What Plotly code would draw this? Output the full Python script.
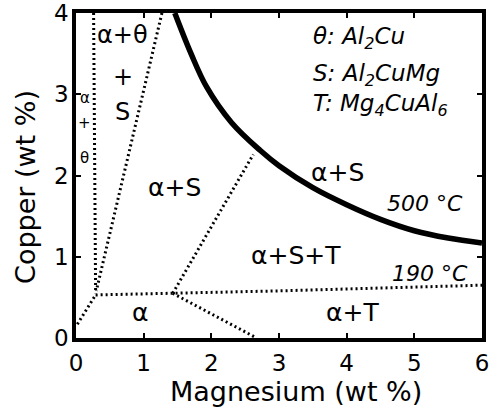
import plotly.graph_objects as go

# 500 °C solvus (thick curve)
curve_mg = [1.46, 1.7, 1.93, 2.3, 2.72, 3.0, 3.5, 4.0, 4.5, 5.0, 5.5, 6.0]
curve_cu = [4.0, 3.5, 3.09, 2.65, 2.31, 2.12, 1.85, 1.64, 1.46, 1.32, 1.23, 1.17]

# dotted phase boundaries (190 °C)
b1_mg = [0.26, 0.29]; b1_cu = [4.0, 0.55]          # alpha+theta / alpha+theta+S
b2_mg = [1.27, 0.30]; b2_cu = [4.0, 0.58]          # alpha+theta+S / alpha+S
b3_mg = [0.02, 0.29]; b3_cu = [0.17, 0.53]         # origin to corner
b4_mg = [0.29, 1.43, 3.0, 6.0]; b4_cu = [0.53, 0.55, 0.58, 0.65]  # 190 °C line
b5_mg = [1.43, 2.62]; b5_cu = [0.55, 2.26]         # alpha+S / alpha+S+T
b6_mg = [1.43, 2.67]; b6_cu = [0.55, 0.0]          # alpha / alpha+T

x_ticks = [0, 1, 2, 3, 4, 5, 6]
y_ticks = [0, 1, 2, 3, 4]

FONT = "DejaVu Sans, Liberation Sans, Arial, sans-serif"

fig = go.Figure()
for xs, ys in [(b1_mg, b1_cu), (b2_mg, b2_cu), (b3_mg, b3_cu), (b4_mg, b4_cu),
               (b5_mg, b5_cu), (b6_mg, b6_cu)]:
    fig.add_trace(go.Scatter(x=xs, y=ys, mode="lines",
                             line=dict(color="black", width=3, dash="2px,3px"),
                             hoverinfo="skip", showlegend=False))
fig.add_trace(go.Scatter(x=curve_mg, y=curve_cu, mode="lines",
                         line=dict(color="black", width=5.5, shape="spline"),
                         hoverinfo="skip", showlegend=False))

labels = [
    ("α+θ", 0.68, 3.73, 24, False),
    ("+", 0.69, 3.21, 24, False),
    ("S", 0.69, 2.78, 24, False),
    ("α", 0.13, 2.95, 15, False),
    ("+", 0.13, 2.65, 15, False),
    ("θ", 0.13, 2.22, 15, False),
    ("α+S", 1.46, 1.85, 25, False),
    ("α+S", 3.86, 2.04, 25, False),
    ("500 °C", 5.16, 1.66, 22, True),
    ("α+S+T", 3.25, 1.01, 25, False),
    ("190 °C", 5.23, 0.80, 22, True),
    ("α", 0.95, 0.31, 25, False),
    ("α+T", 4.08, 0.32, 25, False),
]
for txt, x, y, sz, it in labels:
    fig.add_annotation(x=x, y=y, text=("<i>%s</i>" % txt) if it else txt,
                       showarrow=False, font=dict(family=FONT, size=sz, color="black"),
                       xanchor="center", yanchor="middle")

legend_lines = [
    ("<i>θ: Al<sub>2</sub>Cu</i>", 3.69),
    ("<i>S: Al<sub>2</sub>CuMg</i>", 3.24),
    ("<i>T: Mg<sub>4</sub>CuAl<sub>6</sub></i>", 2.87),
]
for txt, y in legend_lines:
    fig.add_annotation(x=3.48, y=y, text=txt, showarrow=False,
                       font=dict(family=FONT, size=23, color="black"),
                       xanchor="left", yanchor="middle")

# axis titles
fig.add_annotation(xref="paper", yref="paper", x=0.542, y=-0.165,
                   text="Magnesium (wt %)", showarrow=False,
                   font=dict(family=FONT, size=27, color="black"),
                   xanchor="center", yanchor="middle")
fig.add_annotation(xref="paper", yref="paper", x=-0.123, y=0.465,
                   text="Copper (wt %)", showarrow=False, textangle=-90,
                   font=dict(family=FONT, size=27, color="black"),
                   xanchor="center", yanchor="middle")

fig.update_layout(
    width=489, height=408,
    margin=dict(l=76, r=7, t=13, b=70),
    paper_bgcolor="white", plot_bgcolor="white",
    font=dict(family=FONT, size=24, color="black"),
    showlegend=False,
)
fig.update_xaxes(range=[0, 6], tickvals=x_ticks, ticktext=[str(v) for v in x_ticks],
                 showgrid=False, zeroline=False, showline=True, linecolor="black",
                 linewidth=3.5, mirror="ticks", ticks="inside", ticklen=5, tickwidth=2,
                 tickcolor="black", tickfont=dict(size=23), automargin=False,
                 ticklabelstandoff=2, ticklabeloverflow="allow")
fig.update_yaxes(range=[0, 4], tickvals=y_ticks, ticktext=[str(v) for v in y_ticks],
                 showgrid=False, zeroline=False, showline=True, linecolor="black",
                 linewidth=3.5, mirror="ticks", ticks="inside", ticklen=5, tickwidth=2,
                 tickcolor="black", tickfont=dict(size=23), automargin=False,
                 ticklabelstandoff=-1, ticklabeloverflow="allow")

# remove the default page margin so the 489x408 figure fills the window exactly
fig.write_html("out.html", config={"displayModeBar": False},
               post_script="document.body.style.margin='0';document.body.style.overflow='hidden';")
